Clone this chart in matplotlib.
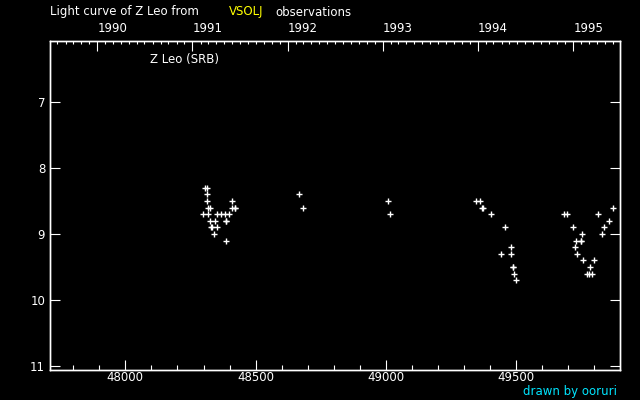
import datetime as dt
import matplotlib
matplotlib.use("Agg")
import matplotlib.pyplot as plt
from matplotlib.ticker import MultipleLocator, FixedLocator

# ---- data (JD - 2400000, visual magnitude) ----
jd = [48307, 48312, 48312, 48315, 48410, 48316, 48324, 48408, 48419, 48422,
      48299, 48318, 48353, 48368, 48384, 48399, 48326, 48345, 48385, 48387,
      48328, 48332, 48353, 48341, 48387, 48667, 48683, 49009, 49017,
      49346, 49362, 49370, 49372, 49404, 49458, 49481, 49442, 49481,
      49487, 49489, 49492, 49500,
      49684, 49696, 49815, 49872, 49857, 49719, 49838, 49753, 49830,
      49730, 49747, 49749, 49726, 49734, 49757, 49799, 49784,
      49772, 49780, 49792]
mag = [8.3, 8.3, 8.4, 8.5, 8.5, 8.6, 8.6, 8.6, 8.6, 8.6,
       8.7, 8.7, 8.7, 8.7, 8.7, 8.7, 8.8, 8.8, 8.8, 8.8,
       8.9, 8.9, 8.9, 9.0, 9.1, 8.4, 8.6, 8.5, 8.7,
       8.5, 8.5, 8.6, 8.6, 8.7, 8.9, 9.2, 9.3, 9.3,
       9.5, 9.5, 9.6, 9.7,
       8.7, 8.7, 8.7, 8.6, 8.8, 8.9, 8.9, 9.0, 9.0,
       9.1, 9.1, 9.1, 9.2, 9.3, 9.4, 9.4, 9.5,
       9.6, 9.6, 9.6]
x_ticks = [48000, 48500, 49000, 49500]
y_ticks = [7, 8, 9, 10, 11]
years = [1990, 1991, 1992, 1993, 1994, 1995]
star_label = "Z Leo (SRB)"

W, H = 640, 400
fig = plt.figure(figsize=(W / 100, H / 100), dpi=100, facecolor="black")
L, R, T, B = 50, 620.3, 41, 370
ax = fig.add_axes([L / W, 1 - B / H, (R - L) / W, (B - T) / H], facecolor="black")
FS = 8.5
fam = "DejaVu Sans"

ax.plot(jd, mag, linestyle="none", marker="+", color="white",
        markersize=3.8, markeredgewidth=1.0)

ax.set_xlim(47711, 49899)
ax.set_ylim(11.06, 6.076)

for s in ax.spines.values():
    s.set_color("white")
    s.set_linewidth(1.0)

ax.xaxis.set_major_locator(FixedLocator(x_ticks))
ax.xaxis.set_minor_locator(MultipleLocator(100))
ax.yaxis.set_major_locator(FixedLocator(y_ticks))
ax.tick_params(axis="x", which="major", direction="in", length=7.2, width=0.8,
               colors="white", labelsize=FS, pad=0.8, top=False)
ax.tick_params(axis="x", which="minor", direction="in", length=3.6, width=0.8,
               colors="white", top=False)
ax.tick_params(axis="y", which="major", direction="in", length=7.2, width=0.8,
               colors="white", labelsize=FS, pad=3.5, right=True)
for lab in ax.get_xticklabels() + ax.get_yticklabels():
    lab.set_family(fam)

# top axis with years
def year_jd(y, m=1):
    return (dt.date(y, m, 1) - dt.date(1990, 1, 1)).days + 47892.5

ax2 = ax.twiny()
ax2.set_xlim(ax.get_xlim())
ax2.xaxis.set_major_locator(FixedLocator([year_jd(y) for y in years]))
months = [year_jd(y, m) for y in range(1989, 1997) for m in range(1, 13)]
ax2.xaxis.set_minor_locator(FixedLocator(months))
ax2.set_xticklabels([str(y) for y in years])
ax2.tick_params(axis="x", which="major", direction="in", length=7.2, width=0.8,
                colors="white", labelsize=FS, pad=4)
ax2.tick_params(axis="x", which="minor", direction="in", length=2.4, width=0.8,
                colors="white")
for lab in ax2.get_xticklabels():
    lab.set_horizontalalignment("left")
    lab.set_family(fam)
for s in ax2.spines.values():
    s.set_color("white")
    s.set_linewidth(1.0)

# texts
ty = 1 - 12 / H
fig.text(50 / W, ty, "Light curve of Z Leo from", color="white", fontsize=FS,
         family=fam, ha="left", va="center")
fig.text(229 / W, ty, "VSOLJ", color="#ffff00", fontsize=FS,
         family=fam, ha="left", va="center")
fig.text(275 / W, ty, "observations", color="white", fontsize=FS,
         family=fam, ha="left", va="center")
fig.text(150 / W, 1 - 60 / H, star_label, color="white", fontsize=FS,
         family=fam, ha="left", va="center")
fig.text(617 / W, 1 - 391 / H, "drawn by ooruri", color="#00e5ff", fontsize=FS,
         family=fam, ha="right", va="center")

fig.savefig("out.png", dpi=100, facecolor="black")
